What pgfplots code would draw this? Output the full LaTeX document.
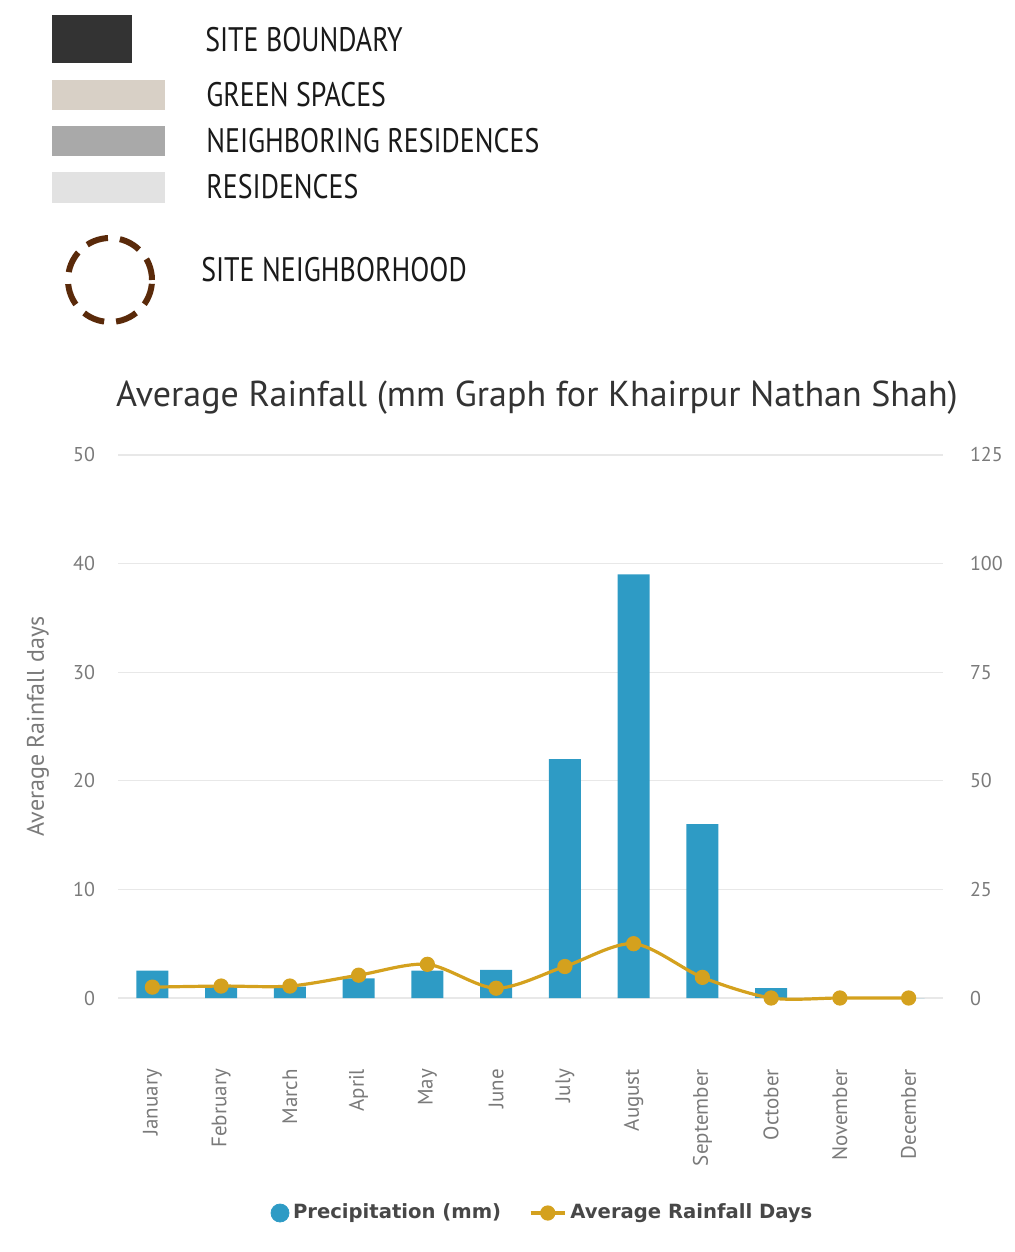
\documentclass[border=0pt]{standalone}
\usepackage{pgfplots}
\pgfplotsset{compat=1.18}
\usepackage{fontspec}
\setmainfont{PT Sans}
\newfontfamily\legfont{DejaVu Sans}
\definecolor{barblue}{HTML}{2E9BC5}
\definecolor{gold}{HTML}{D4A11E}
\definecolor{gridgray}{HTML}{E8E8E8}
\definecolor{tickgray}{HTML}{7A7A7A}
\definecolor{titlegray}{HTML}{333333}
\definecolor{siteb}{HTML}{333333}
\definecolor{greensp}{HTML}{D8D0C6}
\definecolor{neighb}{HTML}{A9A9A9}
\definecolor{resid}{HTML}{E2E2E2}
\definecolor{hoodbrown}{HTML}{5A2A0A}
\begin{document}
\begin{tikzpicture}
\path[use as bounding box] (0,0) rectangle (507pt,626pt);

% map legend and title, in image pixels (y down)
\begin{scope}[x=0.5pt, y=-0.5pt, shift={(0,-1252)}]
\fill[siteb] (52,15) rectangle (132,63);
\fill[greensp] (52,80) rectangle (165,110);
\fill[neighb] (52,126) rectangle (165,156);
\fill[resid] (52,172) rectangle (165,203);
\draw[hoodbrown, line width=3pt, dash pattern=on 11pt off 6pt] (110,280) circle (21pt);
\begin{scope}[every node/.style={anchor=west, font=\fontsize{17}{19}\selectfont, text=black!90, xscale=0.82, inner sep=0pt}]
\node at (205,40) {SITE BOUNDARY};
\node at (206,95) {GREEN SPACES};
\node at (206,141) {NEIGHBORING RESIDENCES};
\node at (206,187) {RESIDENCES};
\node at (201,270) {SITE NEIGHBORHOOD};
\end{scope}
\node[font=\fontsize{18}{20}\selectfont, text=titlegray] at (537,398) {Average Rainfall (mm Graph for Khairpur Nathan Shah)};
\end{scope}

% bars, right axis
\begin{axis}[
  at={(59pt,127pt)}, anchor=south west,
  scale only axis, width=412.5pt, height=271.5pt,
  xmin=-0.5, xmax=11.5, ymin=0, ymax=125,
  axis y line*=right, axis x line*=bottom,
  axis line style={draw=none},
  major tick length=0,
  xtick={0,...,11},
  xticklabels={January,February,March,April,May,June,July,August,September,October,November,December},
  xticklabel style={rotate=90, anchor=east, font=\fontsize{10.5}{12}\selectfont, text=tickgray},
  xticklabel shift=32pt,
  ytick={0,25,...,125},
  yticklabel style={font=\fontsize{10}{12}\selectfont, text=tickgray},
  yticklabel shift=10pt,
  /pgf/number format/assume math mode=true,
  ymajorgrids, grid style={gridgray, line width=0.6pt},
  ybar, bar width=16pt,
]
\addplot[fill=barblue, draw=none] coordinates {
  (0,6.3) (1,2.6) (2,2.6) (3,4.5) (4,6.3) (5,6.5)
  (6,55.0) (7,97.5) (8,40.0) (9,2.3) (10,0) (11,0)};
\end{axis}

% line, left axis
\begin{axis}[
  at={(59pt,127pt)}, anchor=south west,
  scale only axis, width=412.5pt, height=271.5pt,
  xmin=-0.5, xmax=11.5, ymin=0, ymax=50,
  axis x line=none, axis y line*=left,
  axis line style={draw=none},
  major tick length=0,
  ytick={0,10,...,50},
  yticklabel style={font=\fontsize{10}{12}\selectfont, text=tickgray},
  yticklabel shift=8pt,
  /pgf/number format/assume math mode=true,
  ylabel={Average Rainfall days},
  every axis y label/.style={at={(axis description cs:-0.097,0.5)}, rotate=90, anchor=center, font=\fontsize{12}{14}\selectfont, text=tickgray},
  clip=false,
  legend columns=2,
  legend style={at={(axis description cs:0.516,-0.396)}, anchor=center, draw=none, fill=none,
    font=\legfont\bfseries\fontsize{9.8}{12}\selectfont, text=titlegray!90,
    /tikz/every even column/.append style={column sep=12pt}},
]
\addlegendimage{only marks, mark=*, mark size=4.5pt, barblue}
\addlegendentry{Precipitation (mm)}
\addplot[gold, line width=1.6pt, smooth, mark=*, mark size=3pt, mark options={fill=gold, draw=gold}] coordinates {
  (0,1.0) (1,1.1) (2,1.1) (3,2.1) (4,3.1) (5,0.9)
  (6,2.9) (7,5.0) (8,1.9) (9,0) (10,0) (11,0)};
\addlegendentry{Average Rainfall Days}
\end{axis}
\end{tikzpicture}
\end{document}
